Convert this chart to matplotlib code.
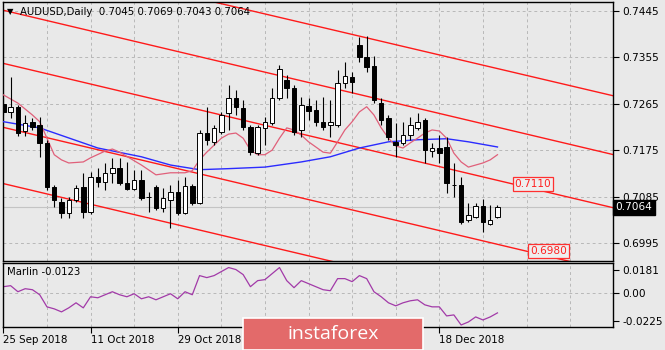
import matplotlib
matplotlib.use("Agg")
import matplotlib.pyplot as plt
import matplotlib.transforms as mtransforms
from matplotlib.patches import FancyBboxPatch

# daily candles AUDUSD
opens = [0.7265, 0.7249, 0.7259, 0.7212, 0.7230, 0.7224, 0.7189, 0.7103, 0.7074, 0.7053,
         0.7078, 0.7103, 0.7055, 0.7123, 0.7113, 0.7131, 0.7140, 0.7111, 0.7100, 0.7117,
         0.7084, 0.7103, 0.7063, 0.7078, 0.7094, 0.7053, 0.7105, 0.7072, 0.7208, 0.7191,
         0.7210, 0.7247, 0.7276, 0.7257, 0.7220, 0.7169, 0.7218, 0.7228, 0.7276, 0.7311,
         0.7296, 0.7214, 0.7261, 0.7253, 0.7230, 0.7224, 0.7224, 0.7305, 0.7317, 0.7379,
         0.7356, 0.7338, 0.7266, 0.7237, 0.7191, 0.7189, 0.7204, 0.7218, 0.7234, 0.7173,
         0.7179, 0.7181, 0.7107, 0.7107, 0.7040, 0.7045, 0.7067, 0.7032, 0.7045]
highs = [0.7276, 0.7317, 0.7263, 0.7243, 0.7237, 0.7239, 0.7195, 0.7107, 0.7082, 0.7084,
         0.7107, 0.7131, 0.7133, 0.7140, 0.7150, 0.7160, 0.7160, 0.7152, 0.7137, 0.7137,
         0.7094, 0.7107, 0.7101, 0.7107, 0.7117, 0.7123, 0.7109, 0.7214, 0.7259, 0.7224,
         0.7249, 0.7301, 0.7292, 0.7272, 0.7224, 0.7224, 0.7239, 0.7296, 0.7340, 0.7321,
         0.7301, 0.7278, 0.7276, 0.7272, 0.7278, 0.7272, 0.7330, 0.7346, 0.7327, 0.7394,
         0.7396, 0.7358, 0.7276, 0.7243, 0.7228, 0.7230, 0.7239, 0.7247, 0.7237, 0.7189,
         0.7204, 0.7201, 0.7150, 0.7123, 0.7072, 0.7072, 0.7080, 0.7069, 0.7069]
lows = [0.7243, 0.7237, 0.7203, 0.7203, 0.7214, 0.7162, 0.7098, 0.7065, 0.7043, 0.7043,
        0.7074, 0.7043, 0.7051, 0.7103, 0.7098, 0.7111, 0.7107, 0.7098, 0.7098, 0.7078,
        0.7055, 0.7059, 0.7055, 0.7024, 0.7049, 0.7051, 0.7069, 0.7070, 0.7185, 0.7185,
        0.7206, 0.7214, 0.7243, 0.7214, 0.7166, 0.7166, 0.7185, 0.7224, 0.7272, 0.7276,
        0.7204, 0.7201, 0.7234, 0.7222, 0.7214, 0.7201, 0.7220, 0.7296, 0.7286, 0.7346,
        0.7327, 0.7266, 0.7224, 0.7195, 0.7162, 0.7185, 0.7195, 0.7214, 0.7150, 0.7162,
        0.7150, 0.7092, 0.7084, 0.7032, 0.7036, 0.7043, 0.7016, 0.7030, 0.7043]
closes = [0.7249, 0.7259, 0.7208, 0.7228, 0.7220, 0.7189, 0.7103, 0.7078, 0.7053, 0.7078,
          0.7101, 0.7055, 0.7123, 0.7113, 0.7131, 0.7140, 0.7111, 0.7100, 0.7117, 0.7082,
          0.7085, 0.7063, 0.7082, 0.7094, 0.7053, 0.7105, 0.7072, 0.7208, 0.7195, 0.7218,
          0.7243, 0.7276, 0.7259, 0.7220, 0.7171, 0.7220, 0.7230, 0.7276, 0.7332, 0.7296,
          0.7210, 0.7263, 0.7251, 0.7230, 0.7220, 0.7230, 0.7305, 0.7319, 0.7307, 0.7356,
          0.7336, 0.7272, 0.7234, 0.7201, 0.7185, 0.7204, 0.7224, 0.7230, 0.7175, 0.7179,
          0.7169, 0.7111, 0.7108, 0.7036, 0.7049, 0.7067, 0.7036, 0.7040, 0.7064]

# slow MA (blue), sampled at bar indices
slow_idx = [0, 5, 13, 19, 23, 27, 31, 36, 41, 45, 49, 53, 57, 61, 64, 68]
slow_ma = [0.7230, 0.7218, 0.7179, 0.7162, 0.7146, 0.7137, 0.7139, 0.7142, 0.7152,
           0.7162, 0.7179, 0.7191, 0.7195, 0.7197, 0.7191, 0.7181]

# fast MA (pink)
fast_idx = [0, 2, 4, 5, 7, 8, 9, 11, 12, 14, 15, 16, 19, 21, 23, 25, 26, 27, 28, 30, 31,
            32, 33, 34, 35, 36, 37, 38, 39, 40, 41, 42, 44, 45, 46, 47, 48, 49, 50, 51, 52,
            53, 54, 55, 56, 57, 58, 59, 60, 61, 62, 63, 64, 65, 66, 67, 68]
fast_ma = [0.7282, 0.7266, 0.7243, 0.7230, 0.7166, 0.7156, 0.7150, 0.7152, 0.7160, 0.7173,
           0.7177, 0.7171, 0.7146, 0.7127, 0.7131, 0.7131, 0.7135, 0.7156, 0.7171, 0.7198,
           0.7206, 0.7208, 0.7198, 0.7175, 0.7166, 0.7166, 0.7175, 0.7198, 0.7218, 0.7214,
           0.7204, 0.7191, 0.7171, 0.7169, 0.7191, 0.7214, 0.7230, 0.7249, 0.7259, 0.7243,
           0.7218, 0.7198, 0.7183, 0.7179, 0.7189, 0.7198, 0.7208, 0.7214, 0.7212, 0.7198,
           0.7169, 0.7152, 0.7142, 0.7146, 0.7150, 0.7156, 0.7166]

# channel lines: price at bar 0 and at bar 84
chan_start = [0.7558, 0.7446, 0.7343, 0.7219, 0.7110]
chan_end = [0.7280, 0.7166, 0.7063, 0.6939, 0.6830]

marlin = [0.0048, 0.0056, 0.0008, 0.0032, 0.0024, -0.0016, -0.0112, -0.0128, -0.0152, -0.0120,
          -0.0080, -0.0120, -0.0032, -0.0040, -0.0016, 0.0008, -0.0016, -0.0032, -0.0008, -0.0048,
          -0.0032, -0.0056, -0.0032, -0.0008, -0.0048, 0.0008, -0.0016, 0.0136, 0.0120, 0.0136,
          0.0168, 0.0200, 0.0184, 0.0144, 0.0048, 0.0096, 0.0104, 0.0152, 0.0200, 0.0096,
          0.0040, 0.0096, 0.0072, 0.0048, 0.0024, 0.0016, 0.0112, 0.0112, 0.0088, 0.0136,
          0.0112, 0.0008, -0.0032, -0.0080, -0.0104, -0.0080, -0.0064, -0.0056, -0.0096, -0.0112,
          -0.0112, -0.0184, -0.0176, -0.0256, -0.0232, -0.0192, -0.0216, -0.0192, -0.0160]

price_ticks = [0.7445, 0.7355, 0.7265, 0.7175, 0.7085, 0.6995]
marlin_ticks = [0.0181, 0.0, -0.0225]
marlin_tick_labels = ["0.0181", "0.00", "-0.0225"]
# the two middle date labels sit under the logo banner in the original
date_idx = [0, 12, 24, 36, 48, 60]
date_labels = ["25 Sep 2018", "11 Oct 2018", "29 Oct 2018", "", "", "18 Dec 2018"]
level_labels = [(72.9, 0.7110), (75.0, 0.6980)]

bg = "#e9e9e9"
plt.rcParams["font.family"] = ["DejaVu Sans"]

fig = plt.figure(figsize=(6.65, 3.5), dpi=100, facecolor=bg)
ax = fig.add_axes([3 / 665, 1 - 261 / 350, 610 / 665, 259 / 350], facecolor=bg)
ax2 = fig.add_axes([3 / 665, 1 - 327 / 350, 610 / 665, 64 / 350], facecolor=bg)

xmax = 83.9
n = len(closes)
x = list(range(n))

# grid
for a in (ax, ax2):
    for g in range(0, 85, 6):
        a.axvline(g, color="#b8b8b8", lw=0.7, ls=(0, (3, 3)), zorder=0)
    a.set_xlim(-0.05, xmax)
    for s in a.spines.values():
        s.set_color("black")
        s.set_linewidth(1.0)

for t in price_ticks:
    ax.axhline(t, color="#b8b8b8", lw=0.7, ls=(0, (3, 3)), zorder=0)

# current price line
ax.axhline(closes[-1], color="#c4c4c4", lw=0.8, zorder=1)

# channel
for p0, p1 in zip(chan_start, chan_end):
    ax.plot([0, 84], [p0, p1], color="#ff1a1a", lw=1.0, zorder=2)

# moving averages
ax.plot(slow_idx, slow_ma, color="#2b2bff", lw=1.0, zorder=3)
ax.plot(fast_idx, fast_ma, color="#e0607a", lw=0.9, zorder=3)

# candles
ax.vlines(x, lows, highs, color="black", lw=0.8, zorder=4)
for i in x:
    o, c = opens[i], closes[i]
    bottom = min(o, c)
    h = max(abs(c - o), 0.00004)
    col = "white" if c >= o else "black"
    ax.bar(i, h, bottom=bottom, width=0.62, color=col, edgecolor="black", lw=0.7, zorder=5)

ax.set_ylim(0.6960, 0.7462)
ax.yaxis.tick_right()
ax.set_yticks(price_ticks)
ax.set_yticklabels([f"{t:.4f}" for t in price_ticks])
ax.tick_params(axis="y", length=4, width=0.8, pad=3, labelsize=7.6, colors="black")
ax.set_xticks([])

# level labels
for xi, lvl in level_labels:
    ax.text(xi, lvl, f"{lvl:.4f}", color="#ff2020", fontsize=7.6, ha="center", va="center", zorder=6,
            bbox=dict(boxstyle="square,pad=0.18", fc="#eeeeee", ec="#ff3030", lw=0.9))

# current price tag
trans = mtransforms.blended_transform_factory(ax.transAxes, ax.transData)
ax.text(1.004, closes[-1], f"{closes[-1]:.4f}", transform=trans, color="white", fontsize=7.6,
        ha="left", va="center", bbox=dict(boxstyle="square,pad=0.22", fc="black", ec="black"))

# header
fig.text(7 / 665, 1 - 12 / 350, "\u25bc", fontsize=6, va="center", ha="left")
fig.text(20 / 665, 1 - 12 / 350, "AUDUSD,Daily  0.7045 0.7069 0.7043 0.7064",
         fontsize=7.3, va="center", ha="left")

# Marlin subpanel
ax2.plot(x, marlin, color="#a23aa8", lw=0.9)
ax2.axhline(0, color="#b8b8b8", lw=0.7, ls=(0, (3, 3)), zorder=0)
ax2.set_ylim(-0.0272, 0.0236)
ax2.yaxis.tick_right()
ax2.set_yticks(marlin_ticks)
ax2.set_yticklabels(marlin_tick_labels)
ax2.tick_params(axis="y", length=4, width=0.8, pad=3, labelsize=7.6)
ax2.set_xticks(date_idx)
ax2.set_xticklabels(date_labels, ha="left")
ax2.tick_params(axis="x", length=4, width=0.8, pad=2, labelsize=7.4)
ax2.text(0.007, 0.86, "Marlin -0.0123", transform=ax2.transAxes, fontsize=7.3, va="center")

# banner
fig.patches.append(FancyBboxPatch((243 / 665, 0.0), 180 / 665, 32 / 350,
                                  boxstyle="square,pad=0", transform=fig.transFigure,
                                  fc="#e36a6a", ec="white", lw=1.2, zorder=10))
fig.text(333 / 665, 1 - 334 / 350, "instaforex", color="white", fontsize=14,
         family="Open Sans", ha="center", va="center", zorder=11)

fig.savefig("out.png", dpi=100, facecolor=bg)
